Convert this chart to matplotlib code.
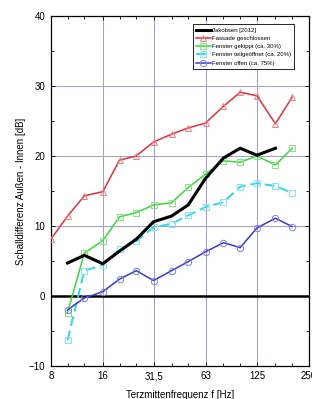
import numpy as np
import matplotlib
matplotlib.use("Agg")
import matplotlib.pyplot as plt
from matplotlib.ticker import FixedLocator, NullFormatter

plt.rcParams['font.family'] = ['Liberation Sans', 'DejaVu Sans']

# third-octave band centre frequencies [Hz]
freq = [8, 10, 12.5, 16, 20, 25, 31.5, 40, 50, 63, 80, 100, 125, 160, 200]

jakobsen = [None, 4.7, 5.8, 4.6, 6.4, 8.1, 10.6, 11.4, 13.0, 16.8, 19.7, 21.1, 20.1, 21.1, None]
geschlossen = [8.1, 11.4, 14.3, 14.9, 19.4, 20.0, 22.0, 23.1, 24.0, 24.7, 27.1, 29.1, 28.6, 24.6, 28.4]
gekippt = [None, -2.4, 6.1, 7.9, 11.3, 11.9, 13.0, 13.3, 15.5, 17.4, 19.3, 19.1, 20.0, 18.7, 21.1]
teilgeoeffnet = [None, -6.3, 3.6, 4.4, 6.7, 7.8, 9.8, 10.3, 11.5, 12.7, 13.4, 15.6, 16.1, 15.7, 14.7]
offen = [None, -2.0, -0.3, 0.6, 2.4, 3.6, 2.2, 3.6, 4.9, 6.3, 7.6, 6.9, 9.7, 11.1, 9.9]

xticks = [8, 16, 31.5, 63, 125, 250]
xticklabels = ['8', '16', '31,5', '63', '125', '250']
yticks = [-10, 0, 10, 20, 30, 40]


def series(vals):
    f = np.array([fr for fr, v in zip(freq, vals) if v is not None])
    v = np.array([v for v in vals if v is not None])
    return f, v


fig = plt.figure(figsize=(3.12, 3.99), dpi=100)
ax = fig.add_axes([0.163, 0.083, 0.827, 0.877])
ax.set_xscale('log', base=2)

grid_c = '#9a9ae0'
for xt in xticks[1:-1]:
    ax.axvline(xt, color=grid_c, lw=0.7, zorder=0)
for yt in [10, 20, 30]:
    ax.axhline(yt, color=grid_c, lw=0.7, zorder=0)
ax.axhline(0, color='black', lw=1.8, zorder=1)

f, v = series(jakobsen)
ax.plot(f, v, color='black', lw=2.2, label='Jakobsen [2012]', zorder=5)
f, v = series(geschlossen)
ax.plot(f, v, color='#e0303a', lw=1.1, marker='^', ms=5, mfc='none',
        mec='#f08080', mew=0.7, label='Fassade geschlossen', zorder=4)
f, v = series(gekippt)
ax.plot(f, v, color='#3ad83a', lw=1.1, marker='s', ms=4.2, mfc='none',
        mec='#80e880', mew=0.7, label='Fenster gekippt (ca. 30%)', zorder=4)
f, v = series(teilgeoeffnet)
ax.plot(f, v, color='#30d8e0', lw=1.4, ls=(0, (5, 2.5)), marker='s', ms=4.2,
        mfc='none', mec='#80e8f0', mew=0.7,
        label='Fenster teilgeöffnet (ca. 20%)', zorder=4)
f, v = series(offen)
ax.plot(f, v, color='#3a3ac8', lw=1.1, marker='o', ms=4.6, mfc='none',
        mec='#8080e0', mew=0.7, label='Fenster offen (ca. 75%)', zorder=4)

ax.set_xlim(8, 250)
ax.set_ylim(-10, 40)
ax.xaxis.set_major_locator(FixedLocator(xticks))
ax.set_xticklabels(xticklabels)
ax.xaxis.set_minor_locator(FixedLocator(freq[1:] + [250]))
ax.xaxis.set_minor_formatter(NullFormatter())
ax.set_yticks(yticks)
ax.yaxis.set_minor_locator(FixedLocator([-5, 5, 15, 25, 35]))
ax.tick_params(which='both', direction='in', top=True, right=True,
               labelsize=7, length=3, width=0.6, pad=4)
ax.tick_params(which='minor', length=2)
for s in ax.spines.values():
    s.set_linewidth(0.9)

ax.set_xlabel('Terzmittenfrequenz f [Hz]', fontsize=7, labelpad=6)
ax.set_ylabel('Schalldifferenz Außen - Innen [dB]', fontsize=7, labelpad=2)

leg = ax.legend(loc='upper right', fontsize=4.3, frameon=True, fancybox=False,
                edgecolor='black', framealpha=1, borderpad=0.6,
                handlelength=2.4, labelspacing=0.5, handletextpad=0.2,
                bbox_to_anchor=(0.955, 0.985))
leg.get_frame().set_linewidth(0.6)

fig.savefig('out.png', dpi=100)
